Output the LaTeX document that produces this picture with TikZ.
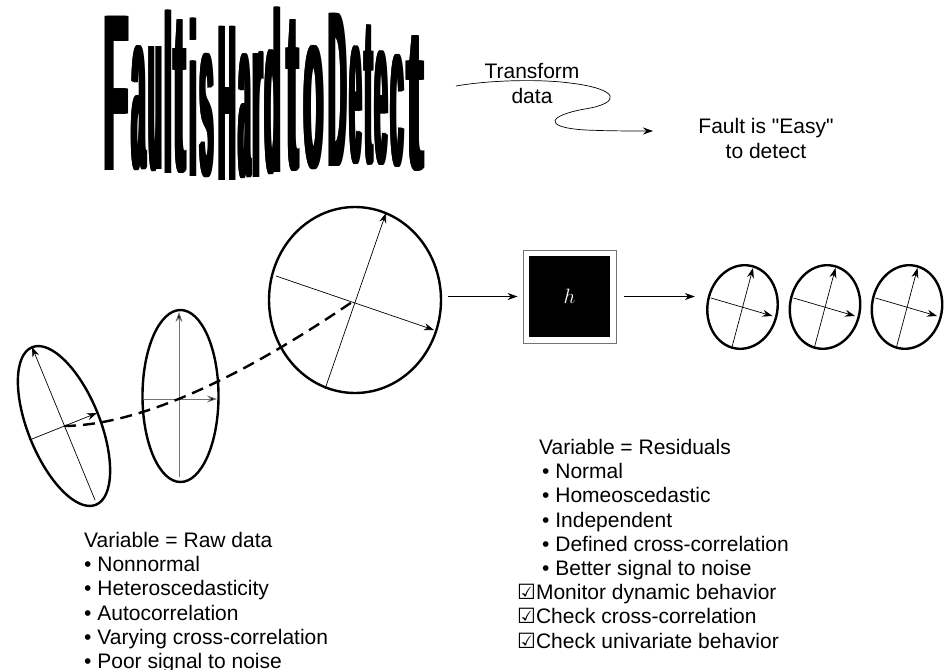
\documentclass[tikz,border=0pt]{standalone}
\usepackage{fontspec}
\usepackage{graphicx}
\newfontfamily\lbfont{Liberation Sans}
\newfontfamily\symfont{DejaVu Sans}
\newfontfamily\wafont{Liberation Sans}
\usetikzlibrary{arrows.meta,shapes.geometric,calc}

% one stretched heavy letter of the wavy title: left x, width, height, baseline y, glyph
% (printed a few times with small shifts to make the strokes heavier)
\newcommand\wlet[5]{%
  \foreach \dx in {0,0.8,1.6,2.4,3.2}{%
    \node[anchor=south west,inner sep=0pt,outer sep=0pt] at (#1+\dx,#4)
      {\resizebox{#2pt}{#3pt}{\wafont\bfseries\vphantom{H}#5}};}}

\tikzset{
  ell/.style={ellipse,draw,line width=2.4pt,inner sep=0pt},
  axis/.style={line width=0.7pt,-{Stealth[length=10pt,width=7pt]}},
  axisgray/.style={line width=0.8pt,draw=black!55,-{Stealth[length=10pt,width=7pt,fill=black]}},
  flow/.style={line width=0.8pt,-{Stealth[length=10pt,width=7pt]}},
  dashcurve/.style={line width=2.4pt,dash pattern=on 12pt off 7pt},
  txt/.style={inner sep=0pt,font=\lbfont\fontsize{21}{24}\selectfont},
}
\newcommand\checkmarkbox{{\symfont\fontsize{21}{21}\selectfont ☑}}

\begin{document}
\begin{tikzpicture}[x=1pt,y=-1pt]
\useasboundingbox (0,0) rectangle (944,669);

% ---- wavy title ----
\wlet{102}{25}{154}{170}{F}
\wlet{130}{14}{157}{171}{a}
\wlet{147}{13}{160}{172}{u}
\wlet{163}{7}{163}{173}{l}
\wlet{172}{12}{160}{174}{t}
\wlet{188}{7}{158}{176}{i}
\wlet{198}{14}{156}{178}{s}
\wlet{217}{17}{154}{180}{H}
\wlet{237}{12}{157}{179}{a}
\wlet{251}{10}{161}{177}{r}
\wlet{263}{16}{165}{175}{d}
\wlet{285}{12}{158}{172}{t}
\wlet{302}{20}{156}{170}{o}
\wlet{327}{18}{153}{166}{D}
\wlet{348}{12}{149}{165}{e}
\wlet{363}{8}{146}{165}{t}
\wlet{373}{13}{144}{166}{e}
\wlet{389}{13}{142}{168}{c}
\wlet{405}{17}{141}{171}{t}

% ---- transform annotation ----
\node[txt,anchor=base] (tf1) at (532,78) {Transform};
\node[txt,anchor=base] (tf2) at (532,103) {data};
\coordinate (tfstart) at (456,86);
\coordinate (tfend) at (653,131);
\draw[line width=0.7pt,-{Stealth[length=10pt,width=7pt]}] (tfstart)
  .. controls (490,80) and (540,79) .. (570,83)
  .. controls (620,89) and (622,103) .. (585,109)
  .. controls (550,115) and (540,127) .. (585,130)
  .. controls (610,131) and (630,131) .. (tfend);
\node[txt,anchor=base] (easy1) at (766,133) {Fault is "Easy"};
\node[txt,anchor=base] (easy2) at (766,158) {to detect};

% ---- raw data ellipses ----
\node[ell,minimum width=170pt,minimum height=72pt,rotate=112] (e1) at (64,426) {};
\node[ell,minimum width=76pt,minimum height=172pt] (e2) at (180.5,396) {};
\node[ell,minimum width=172pt,minimum height=186pt] (e3) at (355,300) {};

\draw[axis] ($(e1.center)+(31,74)$) -- ($(e1.center)+(-32,-79)$);
\draw[axis] ($(e1.center)+(-32,13)$) -- ($(e1.center)+(33,-13)$);
\draw[axisgray] ($(e2.center)+(-1.5,81)$) -- ($(e2.center)+(-1.5,-84)$);
\draw[axisgray] ($(e2.center)+(-36.5,3)$) -- ($(e2.center)+(36.5,3)$);
\draw[axis] ($(e3.center)+(-30,89)$) -- ($(e3.center)+(31,-87)$);
\draw[axis] ($(e3.center)+(-79,-24)$) -- ($(e3.center)+(79,30)$);

\draw[dashcurve] (e1.center) .. controls (150,425) and (260,365) .. (e3.center);

% ---- transformation block ----
\node[draw=black!55,line width=0.9pt,minimum size=93pt,inner sep=0pt] (hbox) at (569.5,296.5) {};
\node[fill=black,minimum size=81pt,inner sep=0pt,text=white] (hcore) at (hbox.center)
  {\fontsize{20}{20}\selectfont$h$};

\draw[flow,shorten <=6pt,shorten >=5pt] (hbox.west -| e3.east) -- (hbox.west);

% ---- residual ellipses ----
\foreach \nm/\cx in {s1/742.5,s2/825,s3/907}{
  \node[ell,minimum width=70pt,minimum height=84pt,rotate=-10] (\nm) at (\cx,307) {};
  \draw[axis] ($(\nm.center)+(-10.5,40)$) -- ($(\nm.center)+(10.5,-39)$);
  \draw[axis] ($(\nm.center)+(-31.5,-9)$) -- ($(\nm.center)+(30,9)$);
}
\draw[flow,shorten <=8pt,shorten >=12pt] (hbox.east) -- (hbox.east -| s1.west);

% ---- raw data properties ----
\node[txt,anchor=base west] (raw0) at (84,547) {Variable = Raw data};
\node[txt,anchor=base west] (raw1) at (84,571) {• Nonnormal};
\node[txt,anchor=base west] (raw2) at (84,595.5) {• Heteroscedasticity};
\node[txt,anchor=base west] (raw3) at (84,620) {• Autocorrelation};
\node[txt,anchor=base west] (raw4) at (84,644) {• Varying cross-correlation};
\node[txt,anchor=base west] (raw5) at (84,668) {• Poor signal to noise};

% ---- residual properties ----
\node[txt,anchor=base west] (res0) at (539,454) {Variable = Residuals};
\node[txt,anchor=base west] (res1) at (542,478.5) {• Normal};
\node[txt,anchor=base west] (res2) at (542,502.7) {• Homeoscedastic};
\node[txt,anchor=base west] (res3) at (542,527) {• Independent};
\node[txt,anchor=base west] (res4) at (542,551) {• Defined cross-correlation};
\node[txt,anchor=base west] (res5) at (542,575.3) {• Better signal to noise};
\node[txt,anchor=base west] (res6) at (517,599.5) {\checkmarkbox Monitor dynamic behavior};
\node[txt,anchor=base west] (res7) at (517,623.7) {\checkmarkbox Check cross-correlation};
\node[txt,anchor=base west] (res8) at (517,648) {\checkmarkbox Check univariate behavior};
\end{tikzpicture}
\end{document}
